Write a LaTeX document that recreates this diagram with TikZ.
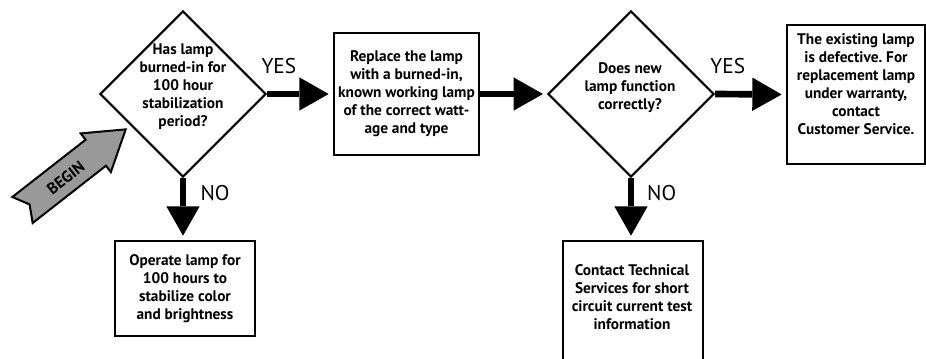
\documentclass[tikz,border=0pt]{standalone}
\usepackage{fontspec}
\setmainfont{PT Sans}
\usetikzlibrary{shapes.geometric,arrows.meta}
\frenchspacing

\begin{document}
\begin{tikzpicture}[
  x=0.75pt,y=0.75pt,
  >={Triangle[length=22pt,width=25pt,line width=0pt]},
  decision/.style={diamond,draw=black,line width=1.6pt,minimum width=124.5pt,minimum height=124.5pt,inner sep=0pt},
  steptext/.style={align=center,font=\bfseries\fontsize{11.5}{13.5}\selectfont},
  block/.style={rectangle,draw=black,line width=2pt,inner sep=1pt,steptext},
  flow/.style={->,line width=5pt,shorten >=3pt},
  answer/.style={font=\fontsize{16}{19}\selectfont}
]

\clip (0,0) rectangle (926,358);

% start arrow
\begin{scope}[shift={(22.5,148)},rotate=38]
\draw[fill=black!40,line width=1.5pt] (0,16.5) -- (93,16.5) -- (93,24.5) -- (131,0) -- (93,-24.5) -- (93,-16.5) -- (0,-16.5) -- (9,0) -- cycle;
\node[rotate=38,font=\bfseries\fontsize{12}{14}\selectfont] (begin) at (54,-1) {BEGIN};
\end{scope}

% top row
\node[decision] (burnin) at (183,264) {};
\node[steptext] (burnintext) at (183,271) {Has lamp\\burned-in for\\100 hour\\stabilization\\period?};
\node[block,minimum width=108.75pt,minimum height=91.5pt] (replace) at (406.5,264) {Replace the lamp\\with a burned-in,\\known working lamp\\of the correct watt-\\age and type};
\node[decision] (works) at (631,264) {};
\node[steptext] (workstext) at (630,270) {Does new\\lamp function\\correctly?};
\node[block,minimum width=103.5pt,minimum height=104.25pt] (defective) at (856,263.5) {};
\node[steptext] (defectivetext) at (856,274) {The existing lamp\\is defective. For\\replacement lamp\\under warranty,\\contact\\Customer Service.};

% bottom row
\node[block,minimum width=105pt,minimum height=71.25pt] (operate) at (185,69.5) {Operate lamp for\\100 hours to\\stabilize color\\and brightness};
\node[block,minimum width=105pt,minimum height=96.75pt] (contact) at (633,52.5) {};
\node[steptext] (contacttext) at (632,60.5) {Contact Technical\\Services for short\\circuit current test\\information};

% connections
\draw[flow] (burnin.east) -- node[answer,pos=0.18,yshift=21pt] (yes1) {YES} (replace.west);
\draw[flow] (replace.east) -- (works.west);
\draw[flow] (works.east) -- node[answer,pos=0.18,yshift=21pt] (yes2) {YES} (defective.west);
\draw[flow] (burnin.south) -- node[answer,pos=0.25,xshift=24pt] (no1) {NO} (burnin.south |- operate.north);
\draw[flow] (works.south) -- node[answer,pos=0.25,xshift=23pt] (no2) {NO} (works.south |- contact.north);

\end{tikzpicture}
\end{document}
